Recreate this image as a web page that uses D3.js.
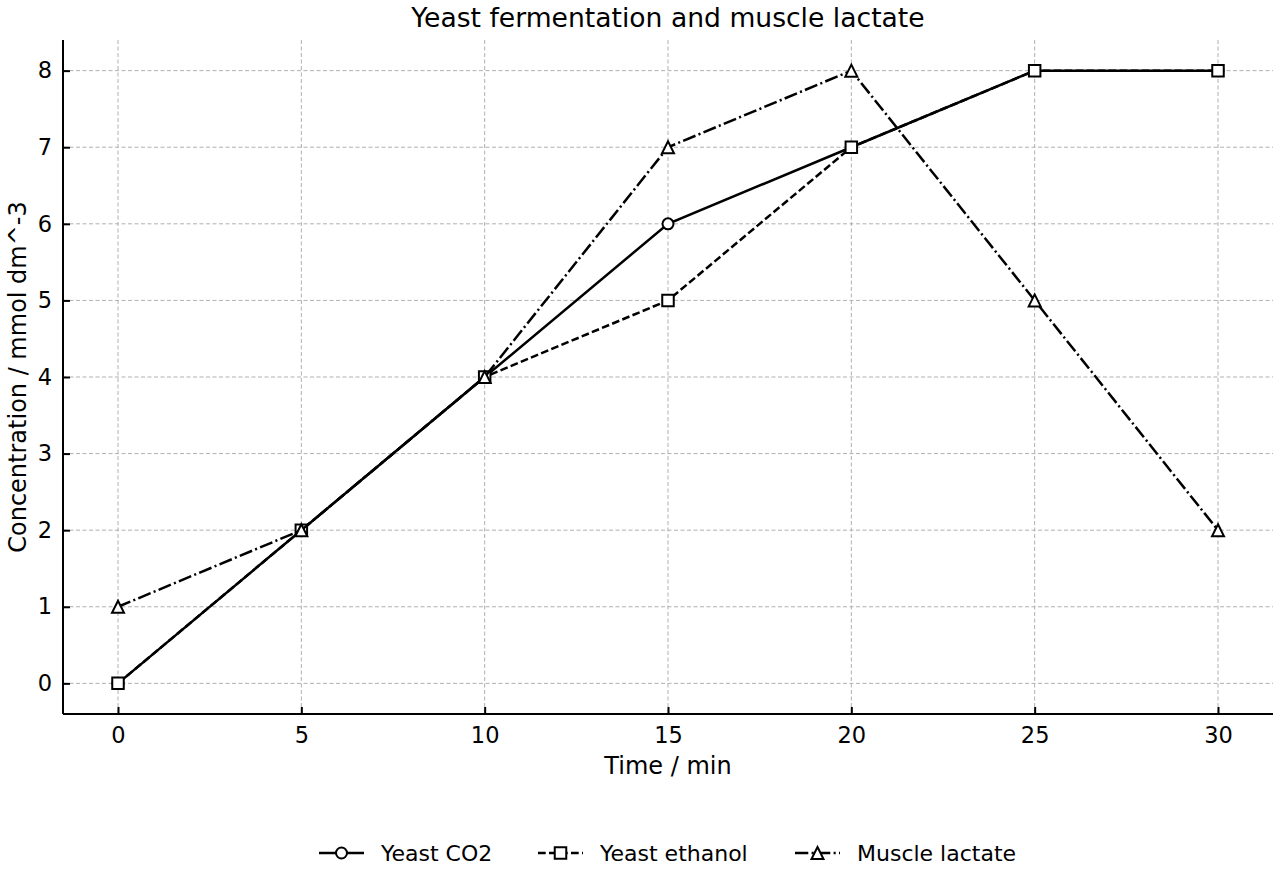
<!DOCTYPE html>
<html>
<head>
<meta charset="utf-8">
<script src="https://cdn.jsdelivr.net/npm/d3@7"></script>
<style>
  body { margin: 0; background: #fff; }
  text { font-family: "DejaVu Sans", sans-serif; }
</style>
</head>
<body>
<div id="chart"></div>
<script>
// 数据
let times = [0, 5, 10, 15, 20, 25, 30];
let co2 = [0, 2, 4, 6, 7, 8, 8];
let ethanol = [0, 2, 4, 5, 7, 8, 8];
let lactate = [1, 2, 4, 7, 8, 5, 2];
let xTicks = [0, 5, 10, 15, 20, 25, 30];
let yTicks = [0, 1, 2, 3, 4, 5, 6, 7, 8];

let width = 1280;
let height = 880;
let margin = { left: 63, right: 7, top: 40, bottom: 166 };

let svg = d3.select("#chart")
    .append("svg")
    .attr("width", width)
    .attr("height", height);

let x = d3.scaleLinear().domain([-1.5, 31.5]).range([margin.left, width - margin.right]);
let y = d3.scaleLinear().domain([-0.4, 8.4]).range([height - margin.bottom, margin.top]);

// 网格线
svg.append("g")
    .selectAll("line")
    .data(xTicks)
    .enter()
    .append("line")
    .attr("x1", d => x(d)).attr("x2", d => x(d))
    .attr("y1", margin.top).attr("y2", height - margin.bottom)
    .attr("stroke", "#b0b0b0").attr("stroke-width", 1)
    .attr("stroke-dasharray", "4,2.5");

svg.append("g")
    .selectAll("line")
    .data(yTicks)
    .enter()
    .append("line")
    .attr("y1", d => y(d)).attr("y2", d => y(d))
    .attr("x1", margin.left).attr("x2", width - margin.right)
    .attr("stroke", "#b0b0b0").attr("stroke-width", 1)
    .attr("stroke-dasharray", "4,2.5");

// 坐标轴（刻度朝内）
let xAxis = svg.append("g")
    .attr("transform", "translate(0," + (height - margin.bottom) + ")")
    .call(d3.axisBottom(x).tickValues(xTicks).tickSize(-7).tickPadding(13).tickSizeOuter(0));
let yAxis = svg.append("g")
    .attr("transform", "translate(" + margin.left + ",0)")
    .call(d3.axisLeft(y).tickValues(yTicks).tickSize(-7).tickPadding(11).tickSizeOuter(0));

[xAxis, yAxis].forEach(function (g) {
    g.attr("font-size", null).attr("font-family", null);
    g.select(".domain").attr("stroke", "#000").attr("stroke-width", 2);
    g.selectAll(".tick line").attr("stroke", "#000").attr("stroke-width", 2);
    g.selectAll(".tick text").attr("fill", "#000").style("font-size", "22.5px")
        .style("font-family", "DejaVu Sans, sans-serif");
});
yAxis.select(".domain").attr("d", "M0," + margin.top + "V" + (height - margin.bottom));
xAxis.select(".domain").attr("d", "M" + margin.left + ",0H" + (width - margin.right));

// 标题和轴标签
svg.append("text")
    .attr("x", (margin.left + width - margin.right) / 2)
    .attr("y", 27)
    .attr("text-anchor", "middle")
    .style("font-size", "26.6px")
    .text("Yeast fermentation and muscle lactate");

svg.append("text")
    .attr("x", (margin.left + width - margin.right) / 2)
    .attr("y", 774)
    .attr("text-anchor", "middle")
    .style("font-size", "24px")
    .text("Time / min");

svg.append("text")
    .attr("transform", "translate(26," + ((margin.top + height - margin.bottom) / 2) + ") rotate(-90)")
    .attr("text-anchor", "middle")
    .style("font-size", "24px")
    .text("Concentration / mmol dm^-3");

// 系列
let series = [
    { name: "Yeast CO2", values: co2, dash: null, marker: "circle" },
    { name: "Yeast ethanol", values: ethanol, dash: "7.7,3.3", marker: "square" },
    { name: "Muscle lactate", values: lactate, dash: "13.3,3.3,2.1,3.3", marker: "triangle" }
];

let line = d3.line()
    .x(function (d, i) { return x(times[i]); })
    .y(function (d) { return y(d); });

function markerPath(type) {
    if (type === "circle") return d3.symbol().type(d3.symbolCircle).size(Math.PI * 5.5 * 5.5)();
    if (type === "square") return d3.symbol().type(d3.symbolSquare).size(11.5 * 11.5)();
    return "M0,-6L6,6L-6,6Z";
}

series.forEach(function (s) {
    let g = svg.append("g");
    g.append("path")
        .datum(s.values)
        .attr("d", line)
        .attr("fill", "none")
        .attr("stroke", "#000")
        .attr("stroke-width", 2.5)
        .attr("stroke-dasharray", s.dash);
    g.selectAll("path.m")
        .data(s.values)
        .enter()
        .append("path")
        .attr("class", "m")
        .attr("d", markerPath(s.marker))
        .attr("transform", function (d, i) { return "translate(" + x(times[i]) + "," + y(d) + ")"; })
        .attr("fill", "#fff")
        .attr("stroke", "#000")
        .attr("stroke-width", 2);
});

// 图例
let legendX = [319, 538, 795];
let legendY = 853;
series.forEach(function (s, i) {
    let g = svg.append("g").attr("transform", "translate(" + legendX[i] + "," + legendY + ")");
    g.append("line")
        .attr("x1", 0).attr("x2", 45).attr("y1", 0).attr("y2", 0)
        .attr("stroke", "#000").attr("stroke-width", 2.5)
        .attr("stroke-dasharray", s.dash);
    g.append("path")
        .attr("d", markerPath(s.marker))
        .attr("transform", "translate(22.5,0)")
        .attr("fill", "#fff").attr("stroke", "#000").attr("stroke-width", 2);
    g.append("text")
        .attr("x", 62).attr("y", 8)
        .style("font-size", "22px")
        .text(s.name);
});
</script>
</body>
</html>
